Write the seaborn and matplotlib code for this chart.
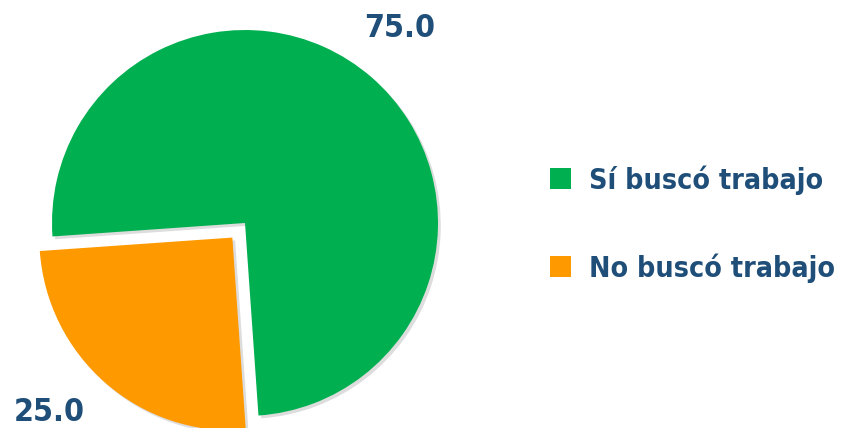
import numpy as np
import matplotlib
matplotlib.use("Agg")
import matplotlib.pyplot as plt
import matplotlib.patheffects as pe
from matplotlib.patches import Patch
import seaborn as sns

# data
categories = ["Sí buscó trabajo", "No buscó trabajo"]
values = [75.0, 25.0]
colors = ["#00B050", "#FF9900"]
text_color = "#1F4E79"

sns.set_theme(style="white")
plt.rcParams['font.family'] = ['DejaVu Sans']
plt.rcParams['font.stretch'] = 'condensed'

fig = plt.figure(figsize=(8.52, 4.28), dpi=100)
ax = fig.add_axes([52 / 852, 12 / 428, 386 / 852, 386 / 428])

wedges, texts, autotexts = ax.pie(
    values, colors=colors, startangle=-86, counterclock=True,
    explode=[0, 0.1], autopct="%.1f", pctdistance=1.3,
    wedgeprops=dict(linewidth=0),
    textprops=dict(color=text_color, fontsize=23, fontweight="bold", fontstretch="condensed"),
)
for w in wedges:
    w.set_clip_on(False)
    w.set_path_effects([pe.SimplePatchShadow(offset=(2, -2), alpha=0.2, shadow_rgbFace="#555555"),
                        pe.Normal()])

# value labels placed outside, like the original
label_polar = [(1.29, 51.5), (1.41, 224)]
for t, (r, a) in zip(autotexts, label_polar):
    th = np.deg2rad(a)
    t.set_position((r * np.cos(th), r * np.sin(th)))
    t.set_clip_on(False)

ax.set_xlim(-1, 1)
ax.set_ylim(-1, 1)
ax.set_aspect("auto")
ax.axis("off")

handles = [Patch(facecolor=c, edgecolor="none") for c in colors]
leg = fig.legend(handles, categories, loc="center left", bbox_to_anchor=(0.615, 0.477),
                 frameon=False, handlelength=0.75, handleheight=0.75, handletextpad=0.65,
                 labelspacing=2.05, prop=dict(size=20.5, weight="bold", stretch="condensed"))
for t in leg.get_texts():
    t.set_color(text_color)

fig.savefig("out.png", dpi=100)
